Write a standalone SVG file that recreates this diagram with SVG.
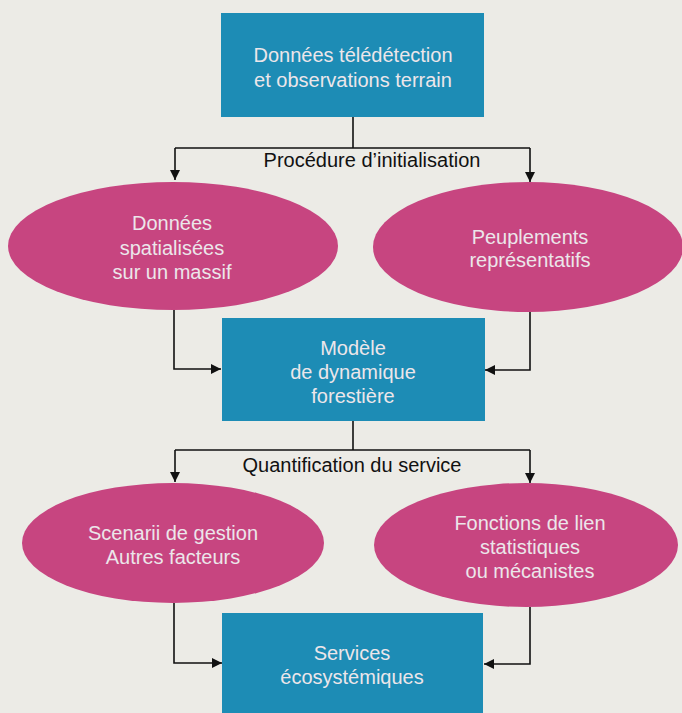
<svg xmlns="http://www.w3.org/2000/svg" width="682" height="713" viewBox="0 0 682 713">
<style>
.box{fill:#1d8cb5}
.ell{fill:#c74580}
.nt{font-family:"Liberation Sans","Noto Sans",sans-serif;font-size:20px;fill:#ece6ea;text-anchor:middle}
.lbl{font-family:"Liberation Sans","Noto Sans",sans-serif;font-size:20px;fill:#111;text-anchor:middle}
.ln{fill:none;stroke:#111;stroke-width:1.6}
</style>
<defs>
<marker id="ah" viewBox="0 0 10 10" refX="10" refY="5" markerWidth="10" markerHeight="10" markerUnits="userSpaceOnUse" orient="auto">
<path d="M0,0 L10,5 L0,10 Z" fill="#111"/>
</marker>
</defs>
<rect width="682" height="713" fill="#ecebe6"/>
<g id="connectors">
<path class="ln" d="M353,117 V148"/>
<path class="ln" d="M175,148 H530"/>
<path class="ln" d="M175,148 V180" marker-end="url(#ah)"/>
<path class="ln" d="M530,148 V182" marker-end="url(#ah)"/>
<path class="ln" d="M174,310 V369 H221" marker-end="url(#ah)"/>
<path class="ln" d="M530,312 V370 H485" marker-end="url(#ah)"/>
<path class="ln" d="M353,421 V450"/>
<path class="ln" d="M175,450 H530"/>
<path class="ln" d="M175,450 V482" marker-end="url(#ah)"/>
<path class="ln" d="M530,450 V483" marker-end="url(#ah)"/>
<path class="ln" d="M174,603 V663 H222" marker-end="url(#ah)"/>
<path class="ln" d="M530,607 V664 H484" marker-end="url(#ah)"/>
<text class="lbl" x="372" y="167">Procédure d’initialisation</text>
<text class="lbl" x="352" y="472">Quantification du service</text>
</g>
<g id="n1">
<rect class="box" x="221" y="13" width="263" height="104"/>
<text class="nt" x="353" y="62">Données télédétection</text>
<text class="nt" x="353" y="87">et observations terrain</text>
</g>
<g id="n2">
<ellipse class="ell" cx="173" cy="246" rx="165" ry="64"/>
<text class="nt" x="172" y="230">Données</text>
<text class="nt" x="172" y="255">spatialisées</text>
<text class="nt" x="172" y="279">sur un massif</text>
</g>
<g id="n3">
<ellipse class="ell" cx="528" cy="247" rx="155" ry="65"/>
<text class="nt" x="530" y="244">Peuplements</text>
<text class="nt" x="530" y="267">représentatifs</text>
</g>
<g id="n4">
<rect class="box" x="222" y="318" width="263" height="103"/>
<text class="nt" x="353" y="355">Modèle</text>
<text class="nt" x="353" y="379">de dynamique</text>
<text class="nt" x="353" y="403">forestière</text>
</g>
<g id="n5">
<ellipse class="ell" cx="173" cy="543" rx="151" ry="60"/>
<text class="nt" x="173" y="540">Scenarii de gestion</text>
<text class="nt" x="173" y="564">Autres facteurs</text>
</g>
<g id="n6">
<ellipse class="ell" cx="526" cy="545" rx="152" ry="62"/>
<text class="nt" x="530" y="530">Fonctions de lien</text>
<text class="nt" x="530" y="554">statistiques</text>
<text class="nt" x="530" y="578">ou mécanistes</text>
</g>
<g id="n7">
<rect class="box" x="222" y="613" width="261" height="100"/>
<text class="nt" x="352" y="660">Services</text>
<text class="nt" x="352" y="684">écosystémiques</text>
</g>
</svg>
